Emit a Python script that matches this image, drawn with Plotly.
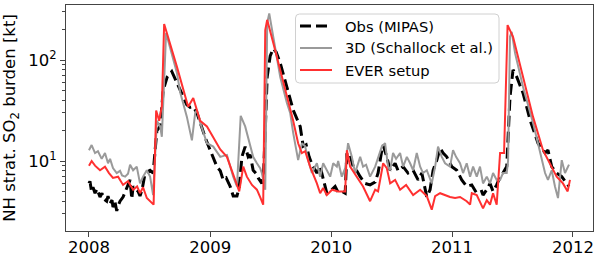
import numpy as np
import pandas as pd
import plotly.graph_objects as go

# ---- data (decimal years, burden in kt) ----
obs_t = [2008.000, 2008.008, 2008.021, 2008.033, 2008.050, 2008.066, 2008.091, 2008.107, 2008.124, 2008.146,
         2008.157, 2008.174, 2008.190, 2008.198, 2008.215, 2008.229, 2008.240, 2008.256, 2008.281, 2008.298,
         2008.322, 2008.339, 2008.353, 2008.364, 2008.405, 2008.421, 2008.438, 2008.463, 2008.504, 2008.529,
         2008.560, 2008.587, 2008.612, 2008.645, 2008.683, 2008.725, 2008.752, 2008.807, 2008.835, 2008.860,
         2008.890, 2008.942, 2008.967, 2009.000, 2009.025, 2009.055, 2009.083, 2009.107, 2009.132, 2009.165,
         2009.190, 2009.221, 2009.240, 2009.262, 2009.289, 2009.314, 2009.331, 2009.355, 2009.380, 2009.397,
         2009.427, 2009.442, 2009.455, 2009.471, 2009.496, 2009.521, 2009.545, 2009.579, 2009.634, 2009.686,
         2009.744, 2009.769, 2009.793, 2009.818, 2009.841, 2009.882, 2009.909, 2009.934, 2009.964, 2009.992,
         2010.033, 2010.058, 2010.088, 2010.116, 2010.130, 2010.157, 2010.182, 2010.212, 2010.240, 2010.281,
         2010.322, 2010.364, 2010.388, 2010.419, 2010.430, 2010.460, 2010.488, 2010.529, 2010.554, 2010.595,
         2010.636, 2010.678, 2010.719, 2010.750, 2010.769, 2010.791, 2010.818, 2010.843, 2010.874, 2010.901,
         2010.926, 2010.956, 2010.998, 2011.039, 2011.080, 2011.121, 2011.163, 2011.204, 2011.245, 2011.256,
         2011.287, 2011.314, 2011.339, 2011.369, 2011.397, 2011.421, 2011.452, 2011.479, 2011.504, 2011.535,
         2011.587, 2011.645, 2011.711, 2011.769, 2011.793, 2011.824, 2011.865, 2011.907, 2011.948, 2011.967]
obs_v = [6.0, 6.3, 5.0, 5.5, 4.8, 5.3, 4.4, 4.8, 4.2, 4.0,
         4.5, 3.8, 4.1, 3.5, 3.9, 3.2, 3.6, 4.0, 4.4, 5.0,
         6.0, 6.5, 4.2, 5.6, 5.0, 4.5, 5.2, 7.6, 8.1, 7.6,
         20, 22, 50, 68, 77, 59, 50, 36, 34, 34.5,
         30, 19, 16, 12.8, 11, 8.8, 8.0, 6.5, 6.8, 5.6,
         4.5, 4.5, 5.5, 11, 13.9, 11, 11.5, 8.1, 7.5, 6.8,
         6.0, 8.0, 20, 68, 110, 130, 120, 93, 54, 32,
         22, 14, 14.5, 11, 9.3, 7.6, 8.8, 6.5, 4.8, 5.0,
         5.6, 4.9, 5.0, 4.8, 12, 11.5, 8.8, 8.0, 7.0, 6.0,
         5.8, 6.2, 7.6, 12.8, 14.4, 11, 8.1, 9.5, 8.0, 8.8,
         7.6, 8.1, 6.5, 7.6, 6.0, 4.4, 5.2, 8.1, 10.2, 13.4,
         12, 11, 8.8, 8.1, 6.5, 5.6, 5.8, 4.8, 5.0, 4.6,
         5.2, 6.0, 5.0, 5.8, 7.0, 7.6, 8.8, 43, 80, 68,
         47, 25.5, 15, 12, 12.8, 8.8, 7.6, 7.0, 6.0, 5.6]

model3d_t = [2008.000, 2008.022, 2008.050, 2008.074, 2008.105, 2008.132, 2008.157, 2008.174, 2008.198, 2008.229,
             2008.256, 2008.273, 2008.298, 2008.322, 2008.339, 2008.364, 2008.394, 2008.421, 2008.446, 2008.477,
             2008.504, 2008.529, 2008.560, 2008.587, 2008.601, 2008.628, 2008.636, 2008.725, 2008.752, 2008.807,
             2008.849, 2008.876, 2008.890, 2008.917, 2008.942, 2008.973, 2009.025, 2009.083, 2009.138, 2009.165,
             2009.190, 2009.221, 2009.252, 2009.289, 2009.331, 2009.355, 2009.386, 2009.413, 2009.427, 2009.455,
             2009.471, 2009.488, 2009.521, 2009.579, 2009.634, 2009.661, 2009.686, 2009.727, 2009.758, 2009.785,
             2009.810, 2009.841, 2009.882, 2009.909, 2009.934, 2009.964, 2009.992, 2010.017, 2010.047, 2010.058,
             2010.088, 2010.116, 2010.140, 2010.171, 2010.198, 2010.240, 2010.264, 2010.289, 2010.322, 2010.364,
             2010.388, 2010.419, 2010.446, 2010.471, 2010.488, 2010.512, 2010.537, 2010.570, 2010.595, 2010.626,
             2010.653, 2010.678, 2010.708, 2010.736, 2010.760, 2010.791, 2010.832, 2010.860, 2010.884, 2010.915,
             2010.942, 2010.983, 2011.008, 2011.033, 2011.066, 2011.091, 2011.121, 2011.149, 2011.174, 2011.204,
             2011.231, 2011.256, 2011.287, 2011.314, 2011.339, 2011.369, 2011.397, 2011.421, 2011.452, 2011.463,
             2011.479, 2011.493, 2011.521, 2011.587, 2011.669, 2011.727, 2011.769, 2011.793, 2011.824, 2011.851,
             2011.876, 2011.907, 2011.934, 2011.967]
model3d_v = [12.8, 14.4, 12.0, 12.5, 10.5, 12.0, 9.5, 10.5, 8.5, 7.6,
             8.0, 7.2, 7.0, 7.5, 9.2, 8.1, 8.8, 6.0, 7.0, 8.1,
             7.0, 4.6, 25, 22, 17.4, 158, 185, 75, 48, 27.5,
             16, 30, 32, 24, 19, 15, 13.9, 11, 11.5, 8.8,
             7.0, 5.6, 28, 22, 14.5, 11, 9.5, 8.5, 7.6, 5.2,
             232, 290, 170, 68, 37.5, 30, 19, 10.2, 15, 14,
             10.2, 7.6, 9.5, 7.0, 9.5, 8.1, 7.0, 9.5, 8.8, 10.0,
             7.0, 8.5, 15, 11, 7.6, 11, 8.8, 9.2, 7.0, 8.8,
             11, 13.9, 15, 8.8, 8.1, 12, 10.5, 12, 8.8, 11,
             9.5, 8.1, 12, 8.8, 7.6, 8.1, 6.0, 8.8, 13.9, 11,
             9.5, 8.8, 12.8, 11, 9.5, 7.6, 9.5, 7.0, 8.8, 7.0,
             8.8, 6.0, 7.0, 6.0, 7.6, 6.5, 6.5, 7.6, 7.6, 10,
             170, 190, 117, 54, 24, 12.8, 7.6, 6.5, 8.1, 5.6,
             4.3, 10.2, 7.6, 9.2]

ever_t = [2008.000, 2008.022, 2008.050, 2008.091, 2008.132, 2008.165, 2008.198, 2008.240, 2008.281, 2008.322,
          2008.364, 2008.397, 2008.421, 2008.446, 2008.477, 2008.518, 2008.533, 2008.554, 2008.579, 2008.601,
          2008.620, 2008.725, 2008.818, 2008.860, 2008.890, 2008.917, 2008.973, 2009.025, 2009.083, 2009.138,
          2009.190, 2009.240, 2009.273, 2009.303, 2009.345, 2009.386, 2009.413, 2009.438, 2009.455, 2009.471,
          2009.521, 2009.579, 2009.634, 2009.686, 2009.727, 2009.758, 2009.785, 2009.826, 2009.882, 2009.909,
          2009.934, 2009.964, 2010.008, 2010.058, 2010.116, 2010.130, 2010.157, 2010.212, 2010.264, 2010.322,
          2010.364, 2010.388, 2010.430, 2010.460, 2010.488, 2010.529, 2010.570, 2010.620, 2010.678, 2010.736,
          2010.791, 2010.832, 2010.860, 2010.901, 2010.942, 2010.983, 2011.025, 2011.066, 2011.121, 2011.149,
          2011.163, 2011.204, 2011.256, 2011.287, 2011.314, 2011.339, 2011.369, 2011.397, 2011.430, 2011.459,
          2011.504, 2011.587, 2011.669, 2011.752, 2011.824, 2011.865, 2011.917, 2011.956, 2011.975]
ever_v = [9.0, 10.0, 9.0, 8.1, 8.8, 7.6, 6.8, 7.0, 5.8, 6.3,
          5.2, 5.6, 4.8, 5.5, 4.3, 3.8, 3.7, 31.6, 25, 35,
          227, 86, 34.5, 42, 32, 25, 22, 17, 13, 11,
          7.5, 5.0, 8.8, 7.0, 5.8, 5.2, 4.4, 3.7, 198, 250,
          148, 80, 43, 25, 15, 12, 12.5, 8.8, 6.0, 4.8,
          5.4, 4.6, 5.2, 5.0, 5.0, 12.8, 8.8, 7.0, 5.6, 4.0,
          5.2, 5.0, 9.5, 8.5, 6.0, 6.5, 5.2, 5.8, 4.6, 5.2,
          4.5, 3.3, 4.5, 4.8, 4.6, 4.4, 4.3, 4.4, 4.0, 3.7,
          4.8, 4.6, 3.4, 4.1, 3.7, 4.8, 3.7, 12, 12, 222,
          170, 68, 27.5, 12.8, 8.8, 7.0, 6.0, 5.0, 6.5]

x_ticks = [2008, 2009, 2010, 2011, 2012]
x_limits = [2007.810, 2012.165]
y_limits_log = [0.307, 2.545]
labels = ["Obs (MIPAS)", "3D (Schallock et al.)", "EVER setup"]
colors = ["black", "#9a9a9a", "#ff3030"]
widths = [3, 2, 2]
dashes = ["11px,5px", "solid", "solid"]


def to_date(y):
    yr = int(np.floor(y))
    start = pd.Timestamp(yr, 1, 1)
    end = pd.Timestamp(yr + 1, 1, 1)
    return start + (end - start) * (y - yr)


def dates(ts):
    return [to_date(t) for t in ts]


FONT = "DejaVu Sans"
W, H = 600, 258
ML, MR, MT, MB = 66, 7, 5, 27
PW, PH = W - ML - MR, H - MT - MB


def px_x(px):
    return (px - ML) / PW


def px_y(py):
    return (H - MB - py) / PH


fig = go.Figure()
series = [(obs_t, obs_v), (model3d_t, model3d_v), (ever_t, ever_v)]
for (t, v), name, c, w, d in zip(series, labels, colors, widths, dashes):
    fig.add_trace(go.Scatter(x=dates(t), y=v, mode="lines", name=name, showlegend=False,
                             line=dict(color=c, width=w, dash=d)))

# ---- legend drawn as a box with samples ----
x0, x1, y0, y1 = px_x(295.5), px_x(499), px_y(83), px_y(14)
rx, ry = 4 / PW, 4 / PH
path = (f"M {x0+rx},{y0} L {x1-rx},{y0} Q {x1},{y0} {x1},{y0+ry} L {x1},{y1-ry} "
        f"Q {x1},{y1} {x1-rx},{y1} L {x0+rx},{y1} Q {x0},{y1} {x0},{y1-ry} "
        f"L {x0},{y0+ry} Q {x0},{y0} {x0+rx},{y0} Z")
shapes = [dict(type="path", path=path, xref="paper", yref="paper", layer="above",
               fillcolor="rgba(255,255,255,0.8)", line=dict(color="#d0d0d0", width=1))]
annotations = []
for i, (name, c, w, d) in enumerate(zip(labels, colors, widths, dashes)):
    yy = px_y(26 + 22 * i)
    shapes.append(dict(type="line", xref="paper", yref="paper", layer="above",
                       x0=px_x(300), x1=px_x(332), y0=yy, y1=yy,
                       line=dict(color=c, width=w, dash=d)))
    annotations.append(dict(text=name, xref="paper", yref="paper", x=px_x(342.5), y=yy,
                            xanchor="left", yanchor="middle", showarrow=False,
                            font=dict(family=FONT, size=14.7, color="black")))

minor_vals = [m * 10 ** e for e in range(0, 3) for m in range(2, 10)]

fig.update_layout(
    width=W, height=H,
    margin=dict(l=ML, r=MR, t=MT, b=MB),
    paper_bgcolor="white", plot_bgcolor="white",
    font=dict(family=FONT, size=16, color="black"),
    showlegend=False,
    shapes=shapes, annotations=annotations,
    xaxis=dict(range=[to_date(x_limits[0]), to_date(x_limits[1])], automargin=False,
               tickvals=[to_date(v) for v in x_ticks], ticktext=[str(v) for v in x_ticks],
               showgrid=False, zeroline=False, showline=True, linecolor="#444444", linewidth=1,
               mirror=True, ticks="outside", ticklen=5, tickcolor="#444444",
               ticklabelstandoff=-4,
               tickfont=dict(family=FONT, size=16.5, color="black")),
    yaxis=dict(type="log", range=y_limits_log, automargin=False,
               tickvals=[10, 100], ticktext=["10<sup>1</sup>", "10<sup>2</sup>"],
               showgrid=False, zeroline=False, showline=True, linecolor="#444444", linewidth=1,
               mirror=True, ticks="outside", ticklen=5, tickcolor="#444444",
               tickfont=dict(family=FONT, size=16.5, color="black"),
               minor=dict(tickvals=minor_vals, ticks="outside", ticklen=3, tickcolor="#444444",
                          showgrid=False),
               title=dict(text="NH strat. SO<sub>2</sub> burden [kt]",
                          font=dict(family=FONT, size=16.5, color="black"), standoff=8)),
)

fig.write_html("out.html", config={"displayModeBar": False},
               post_script="document.body.style.margin='0';document.body.style.padding='0';")
